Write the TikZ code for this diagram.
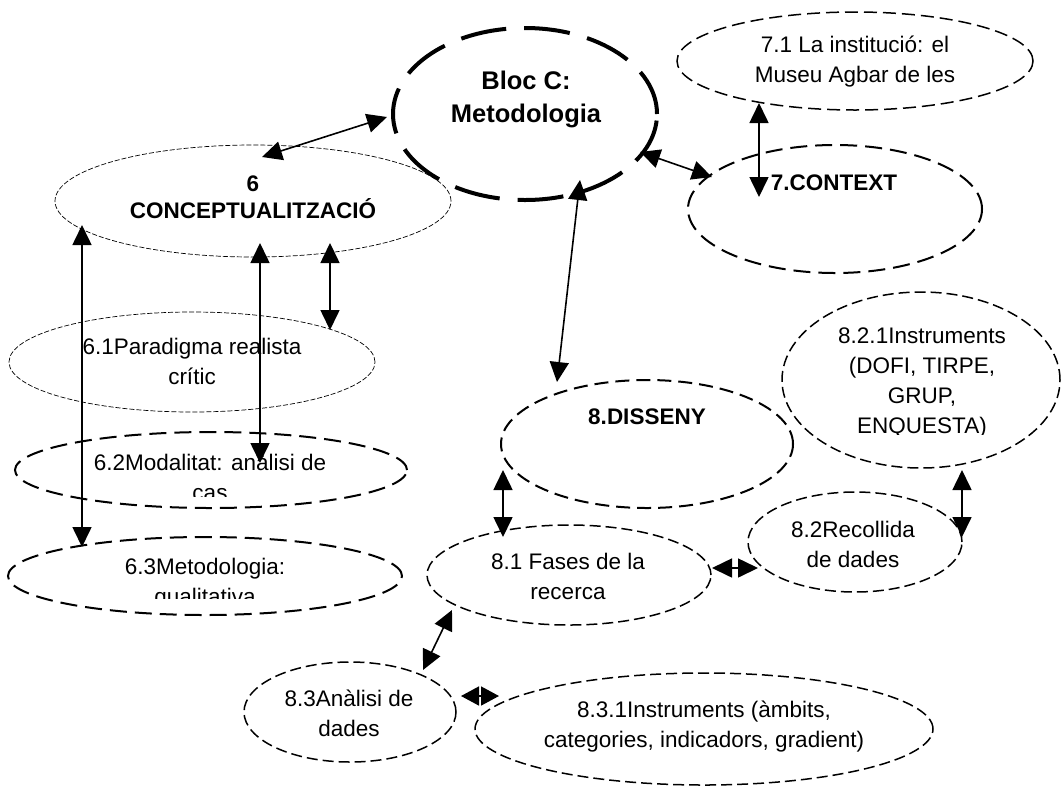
\documentclass[tikz,border=0pt]{standalone}
\usepackage{fontspec}
\setmainfont{Liberation Sans}
\usetikzlibrary{arrows.meta,shapes.geometric}
\begin{document}
\begin{tikzpicture}[x=1pt,y=-1pt,
  el/.style={ellipse,draw,inner sep=0pt,line width=1.5pt,dash pattern=on 11pt off 5pt},
  elthin/.style={el,line width=0.7pt,dash pattern=on 5pt off 2pt},
  elmid/.style={el,line width=2pt,dash pattern=on 17pt off 8pt},
  elbig/.style={el,line width=4pt,dash pattern=on 46pt off 18pt},
  txt/.style={align=center,font=\fontsize{22.5}{30}\selectfont,inner sep=0pt},
  btxt/.style={align=center,font=\fontsize{22.5}{27}\selectfont\bfseries,inner sep=0pt},
  arr/.style={line width=1.6pt,{Triangle[length=20pt,width=19pt]}-{Triangle[length=20pt,width=19pt]}},
]
\useasboundingbox (0,0) rectangle (1064,788);

% ellipses
\node[elbig,minimum width=264pt,minimum height=172pt] (B) at (525,114) {};
\node[elthin,minimum width=396pt,minimum height=112pt] (C6) at (253,201) {};
\node[elthin,minimum width=366pt,minimum height=100pt] (C61) at (192,362) {};
\node[elmid,minimum width=392pt,minimum height=76pt] (C62) at (211,470) {};
\node[elmid,minimum width=394pt,minimum height=78pt] (C63) at (205,576) {};
\node[el,minimum width=356pt,minimum height=98pt,dash pattern=on 13pt off 6pt] (C71) at (855,61) {};
\node[elmid,minimum width=294pt,minimum height=128pt] (C7) at (835,209) {};
\node[elmid,minimum width=292pt,minimum height=128pt,dash pattern=on 14pt off 7pt] (C8) at (647,444) {};
\node[el,minimum width=278pt,minimum height=176pt] (C821) at (921,380) {};
\node[el,minimum width=214pt,minimum height=100pt] (C82) at (855,542) {};
\node[el,minimum width=284pt,minimum height=100pt] (C81) at (569,575) {};
\node[el,minimum width=212pt,minimum height=100pt] (C83) at (350,712) {};
\node[el,minimum width=458pt,minimum height=112pt] (C831) at (704,729) {};

% texts
\node[align=center,font=\fontsize{25.5}{33}\selectfont\bfseries,inner sep=0pt] (tB) at (526,99) {Bloc C:\\Metodologia};
\node[btxt] (t6) at (253,197) {6\\CONCEPTUALITZACIÓ};
\node[txt] (t61) at (192,361) {6.1Paradigma realista\\crític};
\begin{scope}
\clip (0,430) rectangle (430,496);
\node[txt] (t62) at (210,477) {6.2Modalitat: anàlisi de\\cas};
\end{scope}
\begin{scope}
\clip (0,540) rectangle (430,598);
\node[txt] (t63) at (205,584) {6.3Metodologia:\\qualitativa};
\end{scope}
\node[txt] (t71) at (855,62) {7.1 La institució: el\\Museu Agbar de les};
\node[btxt] (t7) at (834,183) {7.CONTEXT};
\node[btxt] (t8) at (647,417) {8.DISSENY};
\begin{scope}
\clip (780,300) rectangle (1064,434);
\node[txt] (t821) at (922,383) {8.2.1Instruments\\(DOFI, TIRPE,\\GRUP,\\ENQUESTA)};
\end{scope}
\node[txt] (t82) at (853,544) {8.2Recollida\\de dades};
\node[txt] (t81) at (568,576) {8.1 Fases de la\\recerca};
\node[txt] (t83) at (349,713) {8.3Anàlisi de\\dades};
\node[txt] (t831) at (704,727) {8.3.1Instruments (àmbits,\\categories, indicadors, gradient)};

% connector end points
\coordinate (a1) at (387,117); \coordinate (b1) at (262,157);
\coordinate (a2) at (640,152); \coordinate (b2) at (712,177);
\coordinate (a3) at (580,180); \coordinate (b3) at (557,382);
\coordinate (a4) at (759,103); \coordinate (b4) at (759,197);
\coordinate (a5) at (82,225);  \coordinate (b5) at (82,547);
\coordinate (a6) at (260,243); \coordinate (b6) at (260,463);
\coordinate (a7) at (330,243); \coordinate (b7) at (330,330);
\coordinate (a8) at (503,470); \coordinate (b8) at (503,537);
\coordinate (a9) at (962,470); \coordinate (b9) at (962,537);
\coordinate (a10) at (712,568); \coordinate (b10) at (758,568);
\coordinate (a11) at (452,610); \coordinate (b11) at (423,670);
\coordinate (a12) at (461,696); \coordinate (b12) at (499,696);

\draw[arr] (a1) -- (b1);
\draw[arr] (a2) -- (b2);
\draw[arr] (a3) -- (b3);
\draw[arr] (a4) -- (b4);
\draw[arr] (a5) -- (b5);
\draw[arr] (a6) -- (b6);
\draw[arr] (a7) -- (b7);
\draw[arr] (a8) -- (b8);
\draw[arr] (a9) -- (b9);
\draw[arr] (a10) -- (b10);
\draw[arr] (a11) -- (b11);
\draw[arr,{Triangle[length=18pt,width=19pt]}-{Triangle[length=18pt,width=19pt]}] (a12) -- (b12);
\end{tikzpicture}
\end{document}
